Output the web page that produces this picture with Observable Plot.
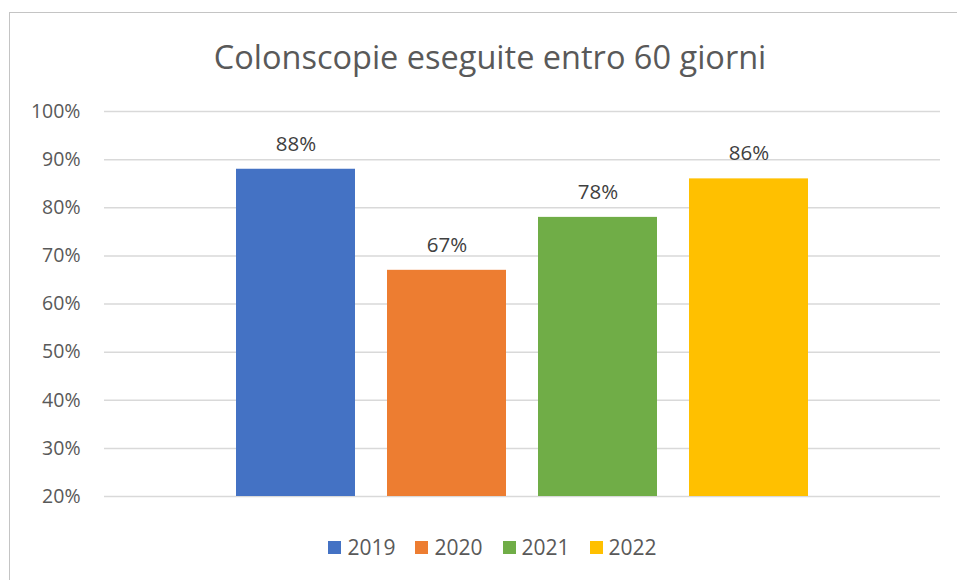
<!DOCTYPE html>
<html>
<head>
<meta charset="utf-8">
<script src="https://cdn.jsdelivr.net/npm/d3@7"></script>
<script src="https://cdn.jsdelivr.net/npm/@observablehq/plot@0.6"></script>
<style>
  html, body { margin: 0; padding: 0; background: #fff; width: 957px; height: 580px; overflow: hidden; }
  #frame { position: absolute; left: 9px; top: 12px; width: 960px; height: 580px; border-top: 1px solid #c4c4c4; border-left: 1px solid #c4c4c4; }
  #title { position: absolute; left: 0; top: 34px; width: 980px; text-align: center; font-family: "Open Sans", sans-serif; font-size: 32.5px; color: #595959; }
  #chart { position: absolute; left: 0; top: 80px; }
  #legend { position: absolute; left: 0; top: 533px; width: 985px; display: flex; justify-content: center; font-family: "Open Sans", sans-serif; font-size: 21px; color: #595959; }
  #legend .item { display: flex; align-items: center; margin: 0 10px; }
  #legend .sw { width: 13px; height: 13px; margin-right: 6px; }
</style>
</head>
<body>
<div id="frame"></div>
<div id="title">Colonscopie eseguite entro 60 giorni</div>
<div id="chart"></div>
<div id="legend"></div>
<script>
const years = ["2019", "2020", "2021", "2022"];
const values = [0.88, 0.67, 0.78, 0.86];
const colors = ["#4472C4", "#ED7D31", "#70AD47", "#FFC000"];
const yTicks = [0.2, 0.3, 0.4, 0.5, 0.6, 0.7, 0.8, 0.9, 1.0];
const yBase = 0.2;

const data = years.map((y, i) => ({year: y, value: values[i]}));
const fmt = d => Math.round(d * 100) + "%";

const plot = Plot.plot({
  width: 957,
  height: 441,
  marginLeft: 104,
  marginRight: 17,
  marginTop: 31,
  marginBottom: 25,
  style: {fontFamily: "Open Sans, sans-serif", fontSize: "19.5px", color: "#595959", background: "transparent", overflow: "visible"},
  x: {domain: years, paddingInner: 0.215, paddingOuter: 0.86, axis: null},
  y: {domain: [0.2, 1.0], ticks: yTicks, tickFormat: fmt, tickSize: 0, tickPadding: 24, label: null},
  color: {domain: years, range: colors},
  marks: [
    Plot.gridY(yTicks, {stroke: "#d9d9d9", strokeOpacity: 1, strokeWidth: 1.5}),
    Plot.barY(data, {x: "year", y1: yBase, y2: "value", fill: "year"}),
    Plot.text(data, {x: "year", y: "value", text: d => fmt(d.value), dy: -25, fill: "#404040", fontSize: 20.5})
  ]
});
document.getElementById("chart").appendChild(plot);

const legend = document.getElementById("legend");
years.forEach((y, i) => {
  const item = document.createElement("div");
  item.className = "item";
  const sw = document.createElement("div");
  sw.className = "sw";
  sw.style.background = plot.scale("color").apply(y);
  const t = document.createElement("span");
  t.textContent = y;
  item.appendChild(sw); item.appendChild(t);
  legend.appendChild(item);
});
</script>
</body>
</html>
